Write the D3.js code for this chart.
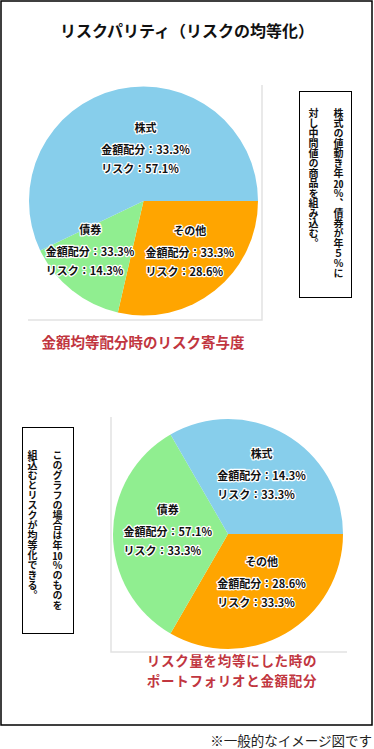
<!DOCTYPE html>
<html lang="ja">
<head>
<meta charset="UTF-8">
<title>リスクパリティ（リスクの均等化）</title>
<script src="https://cdn.jsdelivr.net/npm/d3@7"></script>
<style>
	body { margin: 0; background: #fff; font-family: "Noto Sans CJK JP", "Noto Sans", sans-serif; }
	#wrap { position: relative; width: 374px; height: 749px; }
	svg { position: absolute; left: 0; top: 0; }
	.note {
		position: absolute;
		box-sizing: border-box;
		border: 1px solid #000;
		writing-mode: vertical-rl;
		text-orientation: upright;
		font-size: 10px;
		font-weight: 700;
		line-height: 25px;
		color: #111;
	}
	.tcy { text-combine-upright: all; }
	.caption { position: absolute; text-align: center; font-weight: 700; color: #c1363f; }
	.lbl { font-size: 11px; font-weight: 700; fill: #111; stroke: #fff; stroke-width: 2.5px; stroke-linejoin: round; paint-order: stroke; }
</style>
</head>
<body>
<div id="wrap"></div>
<script>
	// data
	var categories = ["その他", "債券", "株式"];
	var colors = ["#FFA500", "#90EE90", "#87CEEB"];
	var pie1Amount = [33.3, 33.3, 33.3];
	var pie1Risk = [28.6, 14.3, 57.1];
	var pie2Amount = [28.6, 57.1, 14.3];
	var pie2Risk = [33.3, 33.3, 33.3];

	var title = "リスクパリティ（リスクの均等化）";
	var caption1 = ["金額均等配分時のリスク寄与度"];
	var caption2 = ["リスク量を均等にした時の", "ポートフォリオと金額配分"];
	var note1 = ["株式の値動き年<span class='tcy'>20</span>%、債券が年５%に", "対し中間値の商品を組み込む。"];
	var note2 = ["このグラフの場合は年<span class='tcy'>10</span>%のものを", "組込むとリスクが均等化できる。"];
	var footer = "※一般的なイメージ図です";

	var W = 374, H = 749;
	var wrap = d3.select("#wrap");
	var svg = wrap.append("svg").attr("width", W).attr("height", H);

	// outer frame
	svg.append("rect")
		.attr("x", 1).attr("y", 1)
		.attr("width", 371).attr("height", 724)
		.attr("fill", "none").attr("stroke", "#000").attr("stroke-width", 1.5);

	svg.append("text")
		.attr("x", 187).attr("y", 33)
		.attr("text-anchor", "middle").attr("dominant-baseline", "middle")
		.attr("font-size", "16px").attr("font-weight", 700).attr("fill", "#111")
		.text(title);

	var color = d3.scaleOrdinal().domain(categories).range(colors);

	var pie = d3.pie()
		.sort(null)
		.startAngle(Math.PI / 2)
		.endAngle(Math.PI / 2 + 2 * Math.PI)
		.value(d => d.risk);

	// nudge = small label shift off the slice centroid, per slice (layout only)
	function drawPie(cx, cy, r, amount, risk, nudge) {
		var rows = categories.map((c, i) => ({ name: c, amount: amount[i], risk: risk[i] }));
		var arc = d3.arc().innerRadius(0).outerRadius(r);
		var labelArc = d3.arc().innerRadius(0).outerRadius(r * 1.1);
		var g = svg.append("g").attr("transform", `translate(${cx},${cy})`);

		g.selectAll("path.slice")
			.data(pie(rows))
			.enter()
			.append("path")
			.attr("class", "slice")
			.attr("d", arc)
			.attr("fill", d => color(d.data.name));

		var labels = g.selectAll("g.label")
			.data(pie(rows))
			.enter()
			.append("g")
			.attr("class", "label")
			.attr("transform", (d, i) => {
				var c = labelArc.centroid(d);
				return `translate(${c[0] + nudge[i][0]},${c[1] + nudge[i][1]})`;
			});

		labels.append("text")
			.attr("class", "lbl")
			.attr("text-anchor", "middle")
			.attr("y", -22).attr("dy", "0.35em")
			.text(d => d.data.name);

		labels.each(function (d) {
			var el = d3.select(this);
			var l1 = el.append("text").attr("class", "lbl").attr("dy", "0.35em")
				.text("金額配分：" + d.data.amount.toFixed(1) + "%");
			var l2 = el.append("text").attr("class", "lbl").attr("y", 19).attr("dy", "0.35em")
				.text("リスク：" + d.data.risk.toFixed(1) + "%");
			var w = Math.max(l1.node().getComputedTextLength(), l2.node().getComputedTextLength());
			l1.attr("x", -w / 2);
			l2.attr("x", -w / 2);
		});
	}

	// panel guide lines
	var grey = "#e2e2e2";
	svg.append("path").attr("d", "M262,85V320H28").attr("fill", "none").attr("stroke", grey).attr("stroke-width", 1.5);
	svg.append("path").attr("d", "M111,417V652H347").attr("fill", "none").attr("stroke", grey).attr("stroke-width", 1.5);

	drawPie(143.5, 201, 114.5, pie1Amount, pie1Risk, [[7, 3], [-14, 2], [16, 11]]);
	drawPie(228, 534, 115, pie2Amount, pie2Risk, [[2, -5], [3, -2], [2, -3]]);

	// captions (html so the two lines share one box)
	wrap.append("div").attr("class", "caption")
		.style("left", "33px").style("top", "332px").style("width", "220px")
		.style("font-size", "14.5px").style("line-height", "20px")
		.html(caption1.join("<br>"));

	wrap.append("div").attr("class", "caption")
		.style("left", "122px").style("top", "650px").style("width", "220px")
		.style("font-size", "13.5px").style("line-height", "20px")
		.style("letter-spacing", "0.7px")
		.html(caption2.join("<br>"));

	svg.append("text")
		.attr("x", 372).attr("y", 742)
		.attr("text-anchor", "end").attr("dominant-baseline", "middle")
		.attr("font-size", "13.5px").attr("fill", "#222")
		.text(footer);

	// vertical notes
	wrap.append("div").attr("class", "note")
		.style("left", "299px").style("top", "91px")
		.style("width", "53px").style("height", "207px")
		.style("padding", "16px 0 0 0")
		.html(note1.join("<br>"));

	wrap.append("div").attr("class", "note")
		.style("left", "22px").style("top", "427px")
		.style("width", "52px").style("height", "207px")
		.style("padding", "22px 3px 0 0")
		.html(note2.join("<br>"));
</script>
</body>
</html>
